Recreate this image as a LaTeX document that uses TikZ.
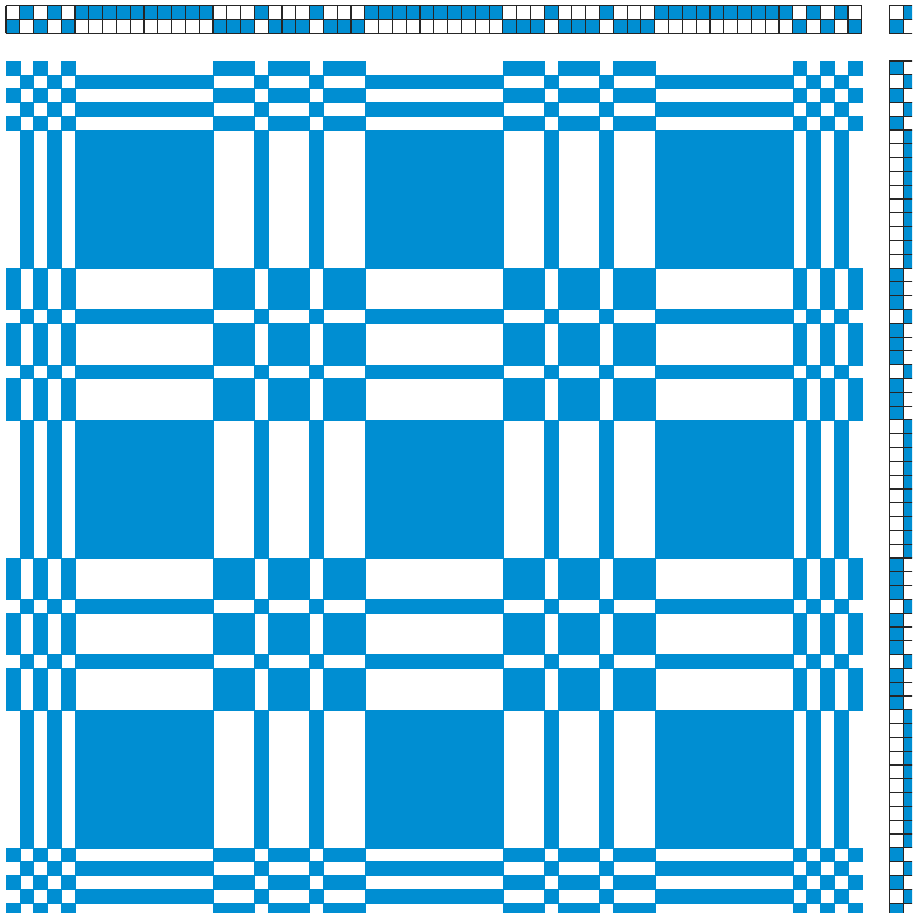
\documentclass[tikz,border=0pt]{standalone}
\usepackage{xcolor}
\definecolor{WarpBlue}{RGB}{0,142,210}
\tikzset{
  dcell/.style={fill=WarpBlue, draw=WarpBlue, line width=0.2pt},
  gline/.style={draw=black!85, line width=0.7pt, step=1},
  gcell/.style={fill=WarpBlue},
}
% threading order (1 = upper shaft row), also used as treadling order
\def\draft{0,1,0,1,0,1,1,1,1,1,1,1,1,1,1,0,0,0,1,0,0,0,1,0,0,0,1,1,1,1,1,1,1,1,1,1,0,0,0,1,0,0,0,1,0,0,0,1,1,1,1,1,1,1,1,1,1,0,1,0,1,0}
\begin{document}
\begin{tikzpicture}[x=0.3cm, y=0.3cm]
  \useasboundingbox (-0.43,4.42) rectangle (65.65,-61.72);
  \clip (-0.43,4.42) rectangle (65.65,-61.72);
  % threading
  \foreach \shaft [count=\c from 0] in \draft {
    \ifnum\shaft=1
      \fill[gcell] (\c,3) rectangle ++(1,1);
    \else
      \fill[gcell] (\c,2) rectangle ++(1,1);
    \fi
  }
  \draw[gline] (0,2) grid (62,4);
  % tie-up
  \fill[gcell] (65,3) rectangle ++(1,1);
  \fill[gcell] (64,2) rectangle ++(1,1);
  \draw[gline] (64,2) grid (66,4);
  % treadling
  \foreach \treadle [count=\r from 0] in \draft {
    \ifnum\treadle=1
      \fill[gcell] (65,-\r) rectangle ++(1,-1);
    \else
      \fill[gcell] (64,-\r) rectangle ++(1,-1);
    \fi
  }
  \draw[gline] (64,0) grid (66,-62);
  % drawdown
  \foreach \treadle [count=\r from 0] in \draft {
    \foreach \shaft [count=\c from 0] in \draft {
      \ifnum\shaft=\treadle
        \fill[dcell] (\c,-\r) rectangle ++(1,-1);
      \fi
    }
  }
\end{tikzpicture}
\end{document}
